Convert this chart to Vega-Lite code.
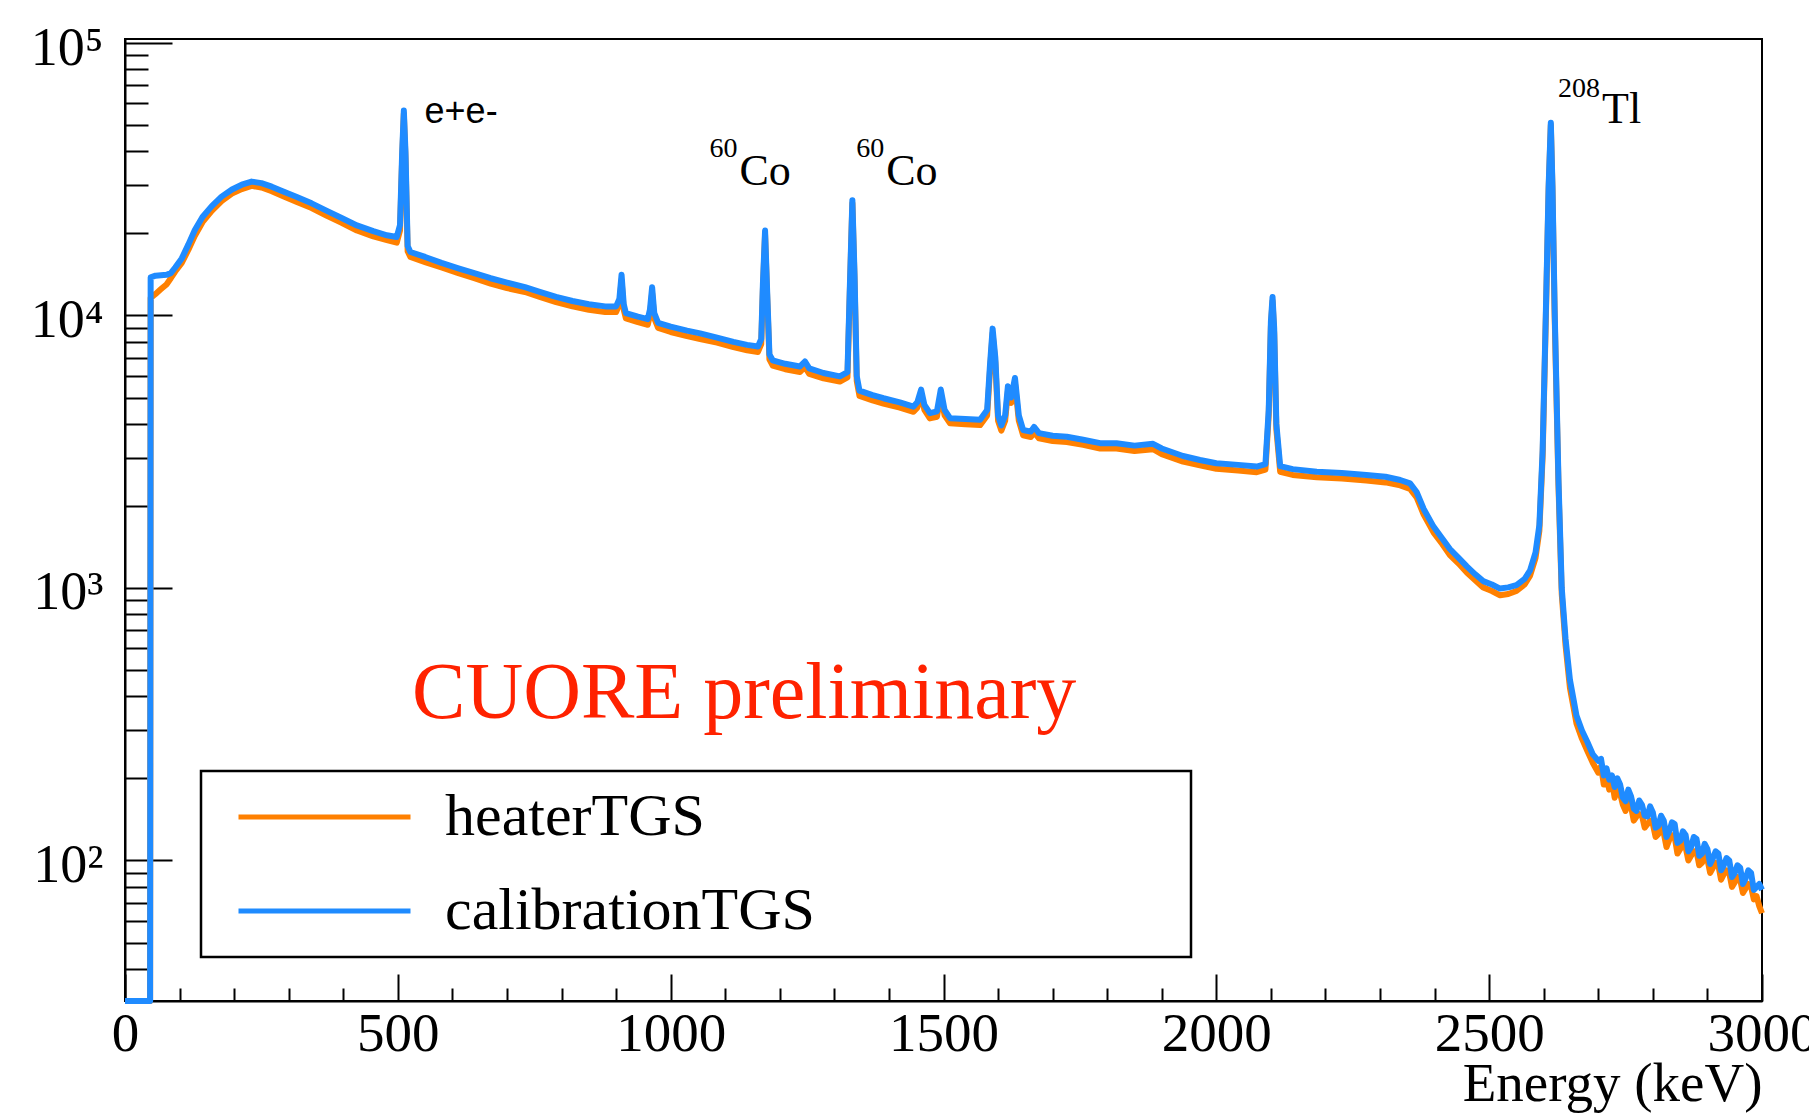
{
  "$schema": "https://vega.github.io/schema/vega-lite/v6.json",
  "width": 1637,
  "height": 962,
  "autosize": {"type": "none"},
  "padding": {"left": 125, "top": 39, "right": 47, "bottom": 116},
  "background": "white",
  "config": {
    "view": {"stroke": "black", "strokeWidth": 2},
    "legend": {"strokeColor": "black", "strokeWidth": 2.5, "fillColor": "white", "padding": 16, "labelLimit": 0}
  },
  "datasets": {
    "spectrum": [
      {"E":0,"heaterTGS":30.5,"calibrationTGS":30.5},
      {"E":46,"heaterTGS":30.5,"calibrationTGS":30.5},
      {"E":47,"heaterTGS":11600,"calibrationTGS":13800},
      {"E":56,"heaterTGS":12000,"calibrationTGS":14000},
      {"E":66,"heaterTGS":12500,"calibrationTGS":14050},
      {"E":76,"heaterTGS":13000,"calibrationTGS":14100},
      {"E":84,"heaterTGS":13700,"calibrationTGS":14300},
      {"E":92,"heaterTGS":14500,"calibrationTGS":15000},
      {"E":104,"heaterTGS":15600,"calibrationTGS":16200},
      {"E":116,"heaterTGS":17400,"calibrationTGS":18200},
      {"E":128,"heaterTGS":19600,"calibrationTGS":20600},
      {"E":142,"heaterTGS":22000,"calibrationTGS":23000},
      {"E":159,"heaterTGS":24200,"calibrationTGS":25200},
      {"E":177,"heaterTGS":26300,"calibrationTGS":27300},
      {"E":196,"heaterTGS":28000,"calibrationTGS":29000},
      {"E":214,"heaterTGS":29100,"calibrationTGS":30200},
      {"E":232,"heaterTGS":29900,"calibrationTGS":31000},
      {"E":250,"heaterTGS":29500,"calibrationTGS":30600},
      {"E":269,"heaterTGS":28600,"calibrationTGS":29700},
      {"E":290,"heaterTGS":27400,"calibrationTGS":28500},
      {"E":315,"heaterTGS":26100,"calibrationTGS":27200},
      {"E":342,"heaterTGS":24800,"calibrationTGS":25800},
      {"E":370,"heaterTGS":23200,"calibrationTGS":24200},
      {"E":397,"heaterTGS":21900,"calibrationTGS":22800},
      {"E":425,"heaterTGS":20500,"calibrationTGS":21400},
      {"E":455,"heaterTGS":19500,"calibrationTGS":20400},
      {"E":480,"heaterTGS":18900,"calibrationTGS":19700},
      {"E":498,"heaterTGS":18500,"calibrationTGS":19400},
      {"E":504,"heaterTGS":20500,"calibrationTGS":21500},
      {"E":508,"heaterTGS":38000,"calibrationTGS":40000},
      {"E":511,"heaterTGS":55000,"calibrationTGS":56500},
      {"E":514,"heaterTGS":38000,"calibrationTGS":40000},
      {"E":518,"heaterTGS":17200,"calibrationTGS":18000},
      {"E":523,"heaterTGS":16400,"calibrationTGS":17100},
      {"E":550,"heaterTGS":15700,"calibrationTGS":16400},
      {"E":580,"heaterTGS":15000,"calibrationTGS":15600},
      {"E":611,"heaterTGS":14300,"calibrationTGS":14900},
      {"E":640,"heaterTGS":13700,"calibrationTGS":14300},
      {"E":670,"heaterTGS":13100,"calibrationTGS":13700},
      {"E":700,"heaterTGS":12600,"calibrationTGS":13200},
      {"E":733,"heaterTGS":12200,"calibrationTGS":12700},
      {"E":760,"heaterTGS":11700,"calibrationTGS":12200},
      {"E":790,"heaterTGS":11200,"calibrationTGS":11700},
      {"E":820,"heaterTGS":10800,"calibrationTGS":11300},
      {"E":850,"heaterTGS":10500,"calibrationTGS":11000},
      {"E":880,"heaterTGS":10300,"calibrationTGS":10800},
      {"E":900,"heaterTGS":10300,"calibrationTGS":10800},
      {"E":906,"heaterTGS":11000,"calibrationTGS":11500},
      {"E":910,"heaterTGS":13500,"calibrationTGS":14100},
      {"E":914,"heaterTGS":10500,"calibrationTGS":11000},
      {"E":918,"heaterTGS":9750,"calibrationTGS":10200},
      {"E":940,"heaterTGS":9450,"calibrationTGS":9900},
      {"E":958,"heaterTGS":9250,"calibrationTGS":9700},
      {"E":962,"heaterTGS":10000,"calibrationTGS":10500},
      {"E":966,"heaterTGS":12100,"calibrationTGS":12700},
      {"E":970,"heaterTGS":9750,"calibrationTGS":10200},
      {"E":977,"heaterTGS":9000,"calibrationTGS":9400},
      {"E":1000,"heaterTGS":8700,"calibrationTGS":9100},
      {"E":1030,"heaterTGS":8400,"calibrationTGS":8800},
      {"E":1054,"heaterTGS":8200,"calibrationTGS":8600},
      {"E":1085,"heaterTGS":7950,"calibrationTGS":8300},
      {"E":1115,"heaterTGS":7650,"calibrationTGS":8000},
      {"E":1140,"heaterTGS":7450,"calibrationTGS":7800},
      {"E":1160,"heaterTGS":7350,"calibrationTGS":7700},
      {"E":1166,"heaterTGS":7850,"calibrationTGS":8200},
      {"E":1169,"heaterTGS":12400,"calibrationTGS":13000},
      {"E":1173,"heaterTGS":19800,"calibrationTGS":20500},
      {"E":1177,"heaterTGS":11500,"calibrationTGS":12000},
      {"E":1181,"heaterTGS":6900,"calibrationTGS":7200},
      {"E":1187,"heaterTGS":6550,"calibrationTGS":6850},
      {"E":1210,"heaterTGS":6350,"calibrationTGS":6650},
      {"E":1237,"heaterTGS":6200,"calibrationTGS":6500},
      {"E":1246,"heaterTGS":6480,"calibrationTGS":6780},
      {"E":1254,"heaterTGS":6100,"calibrationTGS":6400},
      {"E":1280,"heaterTGS":5880,"calibrationTGS":6150},
      {"E":1310,"heaterTGS":5720,"calibrationTGS":5980},
      {"E":1324,"heaterTGS":5930,"calibrationTGS":6200},
      {"E":1328,"heaterTGS":11500,"calibrationTGS":12000},
      {"E":1333,"heaterTGS":25800,"calibrationTGS":26500},
      {"E":1337,"heaterTGS":13400,"calibrationTGS":14000},
      {"E":1341,"heaterTGS":5750,"calibrationTGS":6000},
      {"E":1346,"heaterTGS":5070,"calibrationTGS":5300},
      {"E":1370,"heaterTGS":4880,"calibrationTGS":5100},
      {"E":1390,"heaterTGS":4750,"calibrationTGS":4970},
      {"E":1420,"heaterTGS":4590,"calibrationTGS":4800},
      {"E":1445,"heaterTGS":4430,"calibrationTGS":4630},
      {"E":1452,"heaterTGS":4590,"calibrationTGS":4800},
      {"E":1459,"heaterTGS":5120,"calibrationTGS":5350},
      {"E":1465,"heaterTGS":4500,"calibrationTGS":4700},
      {"E":1475,"heaterTGS":4190,"calibrationTGS":4380},
      {"E":1488,"heaterTGS":4250,"calibrationTGS":4450},
      {"E":1495,"heaterTGS":5120,"calibrationTGS":5350},
      {"E":1502,"heaterTGS":4300,"calibrationTGS":4500},
      {"E":1512,"heaterTGS":4020,"calibrationTGS":4200},
      {"E":1540,"heaterTGS":3990,"calibrationTGS":4170},
      {"E":1567,"heaterTGS":3960,"calibrationTGS":4140},
      {"E":1580,"heaterTGS":4300,"calibrationTGS":4500},
      {"E":1585,"heaterTGS":6200,"calibrationTGS":6500},
      {"E":1590,"heaterTGS":8600,"calibrationTGS":8950},
      {"E":1595,"heaterTGS":6700,"calibrationTGS":7000},
      {"E":1600,"heaterTGS":4110,"calibrationTGS":4300},
      {"E":1606,"heaterTGS":3780,"calibrationTGS":3950},
      {"E":1613,"heaterTGS":4110,"calibrationTGS":4300},
      {"E":1618,"heaterTGS":5260,"calibrationTGS":5500},
      {"E":1624,"heaterTGS":4780,"calibrationTGS":5000},
      {"E":1631,"heaterTGS":5640,"calibrationTGS":5900},
      {"E":1638,"heaterTGS":4110,"calibrationTGS":4300},
      {"E":1646,"heaterTGS":3630,"calibrationTGS":3800},
      {"E":1660,"heaterTGS":3580,"calibrationTGS":3750},
      {"E":1666,"heaterTGS":3730,"calibrationTGS":3900},
      {"E":1675,"heaterTGS":3540,"calibrationTGS":3700},
      {"E":1700,"heaterTGS":3460,"calibrationTGS":3620},
      {"E":1726,"heaterTGS":3430,"calibrationTGS":3590},
      {"E":1756,"heaterTGS":3350,"calibrationTGS":3500},
      {"E":1787,"heaterTGS":3250,"calibrationTGS":3400},
      {"E":1817,"heaterTGS":3250,"calibrationTGS":3400},
      {"E":1850,"heaterTGS":3180,"calibrationTGS":3330},
      {"E":1884,"heaterTGS":3230,"calibrationTGS":3380},
      {"E":1900,"heaterTGS":3100,"calibrationTGS":3250},
      {"E":1939,"heaterTGS":2910,"calibrationTGS":3050},
      {"E":1970,"heaterTGS":2820,"calibrationTGS":2950},
      {"E":2000,"heaterTGS":2740,"calibrationTGS":2870},
      {"E":2040,"heaterTGS":2700,"calibrationTGS":2830},
      {"E":2074,"heaterTGS":2660,"calibrationTGS":2790},
      {"E":2090,"heaterTGS":2720,"calibrationTGS":2850},
      {"E":2096,"heaterTGS":4300,"calibrationTGS":4500},
      {"E":2100,"heaterTGS":9100,"calibrationTGS":9500},
      {"E":2103,"heaterTGS":11300,"calibrationTGS":11700},
      {"E":2106,"heaterTGS":8600,"calibrationTGS":9000},
      {"E":2110,"heaterTGS":3820,"calibrationTGS":4000},
      {"E":2117,"heaterTGS":2670,"calibrationTGS":2800},
      {"E":2140,"heaterTGS":2600,"calibrationTGS":2730},
      {"E":2184,"heaterTGS":2550,"calibrationTGS":2670},
      {"E":2230,"heaterTGS":2520,"calibrationTGS":2640},
      {"E":2275,"heaterTGS":2480,"calibrationTGS":2600},
      {"E":2310,"heaterTGS":2440,"calibrationTGS":2560},
      {"E":2337,"heaterTGS":2380,"calibrationTGS":2490},
      {"E":2355,"heaterTGS":2310,"calibrationTGS":2420},
      {"E":2367,"heaterTGS":2150,"calibrationTGS":2250},
      {"E":2380,"heaterTGS":1860,"calibrationTGS":1950},
      {"E":2398,"heaterTGS":1600,"calibrationTGS":1680},
      {"E":2414,"heaterTGS":1450,"calibrationTGS":1520},
      {"E":2428,"heaterTGS":1320,"calibrationTGS":1390},
      {"E":2444,"heaterTGS":1230,"calibrationTGS":1290},
      {"E":2459,"heaterTGS":1140,"calibrationTGS":1200},
      {"E":2475,"heaterTGS":1065,"calibrationTGS":1120},
      {"E":2489,"heaterTGS":1005,"calibrationTGS":1060},
      {"E":2505,"heaterTGS":975,"calibrationTGS":1030},
      {"E":2520,"heaterTGS":940,"calibrationTGS":995},
      {"E":2535,"heaterTGS":950,"calibrationTGS":1005},
      {"E":2550,"heaterTGS":975,"calibrationTGS":1025},
      {"E":2565,"heaterTGS":1030,"calibrationTGS":1080},
      {"E":2575,"heaterTGS":1110,"calibrationTGS":1160},
      {"E":2585,"heaterTGS":1290,"calibrationTGS":1350},
      {"E":2592,"heaterTGS":1620,"calibrationTGS":1700},
      {"E":2598,"heaterTGS":3050,"calibrationTGS":3200},
      {"E":2604,"heaterTGS":10000,"calibrationTGS":10500},
      {"E":2609,"heaterTGS":29000,"calibrationTGS":30000},
      {"E":2613,"heaterTGS":50000,"calibrationTGS":51000},
      {"E":2616,"heaterTGS":29000,"calibrationTGS":30000},
      {"E":2620,"heaterTGS":10000,"calibrationTGS":10500},
      {"E":2627,"heaterTGS":2380,"calibrationTGS":2500},
      {"E":2633,"heaterTGS":950,"calibrationTGS":1000},
      {"E":2640,"heaterTGS":615,"calibrationTGS":650},
      {"E":2648,"heaterTGS":430,"calibrationTGS":460},
      {"E":2660,"heaterTGS":318,"calibrationTGS":340},
      {"E":2670,"heaterTGS":280,"calibrationTGS":300},
      {"E":2680,"heaterTGS":252,"calibrationTGS":272},
      {"E":2690,"heaterTGS":228,"calibrationTGS":245},
      {"E":2700,"heaterTGS":210,"calibrationTGS":232},
      {"E":2705,"heaterTGS":222,"calibrationTGS":236},
      {"E":2710,"heaterTGS":190,"calibrationTGS":205},
      {"E":2715,"heaterTGS":205,"calibrationTGS":218},
      {"E":2720,"heaterTGS":182,"calibrationTGS":198},
      {"E":2725,"heaterTGS":196,"calibrationTGS":205},
      {"E":2730,"heaterTGS":170,"calibrationTGS":186},
      {"E":2735,"heaterTGS":184,"calibrationTGS":200},
      {"E":2740,"heaterTGS":176,"calibrationTGS":190},
      {"E":2745,"heaterTGS":160,"calibrationTGS":170},
      {"E":2750,"heaterTGS":152,"calibrationTGS":165},
      {"E":2755,"heaterTGS":168,"calibrationTGS":182},
      {"E":2760,"heaterTGS":158,"calibrationTGS":172},
      {"E":2765,"heaterTGS":140,"calibrationTGS":155},
      {"E":2770,"heaterTGS":145,"calibrationTGS":152},
      {"E":2775,"heaterTGS":148,"calibrationTGS":166},
      {"E":2780,"heaterTGS":146,"calibrationTGS":160},
      {"E":2785,"heaterTGS":132,"calibrationTGS":146},
      {"E":2790,"heaterTGS":136,"calibrationTGS":145},
      {"E":2795,"heaterTGS":140,"calibrationTGS":158},
      {"E":2800,"heaterTGS":136,"calibrationTGS":150},
      {"E":2805,"heaterTGS":122,"calibrationTGS":132},
      {"E":2810,"heaterTGS":125,"calibrationTGS":134},
      {"E":2815,"heaterTGS":132,"calibrationTGS":146},
      {"E":2820,"heaterTGS":126,"calibrationTGS":140},
      {"E":2825,"heaterTGS":112,"calibrationTGS":122},
      {"E":2830,"heaterTGS":119,"calibrationTGS":128},
      {"E":2835,"heaterTGS":124,"calibrationTGS":138},
      {"E":2840,"heaterTGS":122,"calibrationTGS":136},
      {"E":2845,"heaterTGS":106,"calibrationTGS":116},
      {"E":2850,"heaterTGS":110,"calibrationTGS":118},
      {"E":2855,"heaterTGS":116,"calibrationTGS":128},
      {"E":2860,"heaterTGS":112,"calibrationTGS":124},
      {"E":2865,"heaterTGS":100,"calibrationTGS":108},
      {"E":2870,"heaterTGS":104,"calibrationTGS":112},
      {"E":2875,"heaterTGS":108,"calibrationTGS":122},
      {"E":2880,"heaterTGS":108,"calibrationTGS":120},
      {"E":2885,"heaterTGS":96,"calibrationTGS":104},
      {"E":2890,"heaterTGS":98,"calibrationTGS":106},
      {"E":2895,"heaterTGS":104,"calibrationTGS":115},
      {"E":2900,"heaterTGS":101,"calibrationTGS":110},
      {"E":2905,"heaterTGS":90,"calibrationTGS":97},
      {"E":2910,"heaterTGS":94,"calibrationTGS":102},
      {"E":2915,"heaterTGS":98,"calibrationTGS":108},
      {"E":2920,"heaterTGS":96,"calibrationTGS":106},
      {"E":2925,"heaterTGS":85,"calibrationTGS":92},
      {"E":2930,"heaterTGS":89,"calibrationTGS":96},
      {"E":2935,"heaterTGS":92,"calibrationTGS":102},
      {"E":2940,"heaterTGS":90,"calibrationTGS":100},
      {"E":2945,"heaterTGS":80,"calibrationTGS":87},
      {"E":2950,"heaterTGS":83,"calibrationTGS":90},
      {"E":2955,"heaterTGS":87,"calibrationTGS":96},
      {"E":2960,"heaterTGS":85,"calibrationTGS":94},
      {"E":2965,"heaterTGS":76,"calibrationTGS":82},
      {"E":2970,"heaterTGS":79,"calibrationTGS":86},
      {"E":2975,"heaterTGS":82,"calibrationTGS":92},
      {"E":2980,"heaterTGS":80,"calibrationTGS":90},
      {"E":2985,"heaterTGS":72,"calibrationTGS":78},
      {"E":2990,"heaterTGS":74,"calibrationTGS":80},
      {"E":2995,"heaterTGS":68,"calibrationTGS":82},
      {"E":3000,"heaterTGS":64,"calibrationTGS":78}
    ],
    "sansLabels": [
      {"E": 549, "counts": 50700, "t": "e+e-"}
    ],
    "mainLabels": [
      {"E": 1126, "counts": 30200, "t": "Co"},
      {"E": 1395, "counts": 30200, "t": "Co"},
      {"E": 2707, "counts": 50700, "t": "Tl"}
    ],
    "supLabels": [
      {"E": 1071, "counts": 38200, "t": "60"},
      {"E": 1340, "counts": 38200, "t": "60"},
      {"E": 2626, "counts": 63400, "t": "208"}
    ],
    "watermark": [
      {"E": 526, "counts": 333, "t": "CUORE preliminary"}
    ]
  },
  "encoding": {
    "x": {
      "field": "E", "type": "quantitative",
      "scale": {"domain": [0, 3000], "nice": false, "zero": false},
      "axis": {
        "values": [0,100,200,300,400,500,600,700,800,900,1000,1100,1200,1300,1400,1500,1600,1700,1800,1900,2000,2100,2200,2300,2400,2500,2600,2700,2800,2900,3000],
        "format": "d",
        "labelExpr": "datum.value % 500 == 0 ? datum.label : ''",
        "tickSize": {"condition": {"test": "datum.value % 500 == 0", "value": -27}, "value": -13},
        "tickColor": "black", "tickWidth": 2,
        "domainColor": "black", "domainWidth": 2,
        "grid": false,
        "labelFont": "Liberation Serif", "labelFontSize": 55, "labelColor": "black",
        "labelBaseline": "alphabetic", "labelPadding": 76,
        "labelFlush": false, "labelOverlap": false, "labelBound": false,
        "title": "Energy (keV)",
        "titleFont": "Liberation Serif", "titleFontSize": 55, "titleFontWeight": "normal", "titleColor": "black",
        "titleAlign": "right", "titleAnchor": "end", "titleBaseline": "alphabetic",
        "titleX": 1637, "titleY": 99
      }
    },
    "y": {
      "field": "counts", "type": "quantitative",
      "scale": {"type": "log", "domain": [30.5, 103440], "nice": false},
      "axis": {
        "values": [40,50,60,70,80,90,100,200,300,400,500,600,700,800,900,1000,2000,3000,4000,5000,6000,7000,8000,9000,10000,20000,30000,40000,50000,60000,70000,80000,90000,100000],
        "labelExpr": "datum.value == 100 ? '10\u00b2' : datum.value == 1000 ? '10\u00b3' : datum.value == 10000 ? '10\u2074' : datum.value == 100000 ? '10\u2075' : ''",
        "tickSize": {"condition": {"test": "indexof([100,1000,10000,100000], datum.value) >= 0", "value": -47}, "value": -23},
        "tickColor": "black", "tickWidth": 2,
        "domainColor": "black", "domainWidth": 2,
        "grid": false,
        "labelFont": "Liberation Serif", "labelFontSize": 54, "labelColor": "black",
        "labelBaseline": "middle", "labelPadding": 69, "labelOffset": 5,
        "labelFlush": false, "labelOverlap": false, "labelBound": false,
        "title": null
      }
    }
  },
  "layer": [
    {
      "data": {"name": "spectrum"},
      "transform": [{"fold": ["heaterTGS", "calibrationTGS"], "as": ["series", "counts"]}],
      "mark": {"type": "line", "strokeWidth": 6, "strokeJoin": "round"},
      "encoding": {
        "color": {
          "field": "series", "type": "nominal",
          "scale": {"domain": ["heaterTGS", "calibrationTGS"], "range": ["#ff8000", "#1f8bff"]},
          "legend": {
            "orient": "none", "legendX": 76, "legendY": 732,
            "title": null, "direction": "vertical",
            "symbolType": "stroke", "symbolSize": 29584, "symbolStrokeWidth": 5,
            "symbolOffset": 19, "clipHeight": 60, "rowPadding": 34,
            "labelFont": "Liberation Serif", "labelFontSize": 60, "labelColor": "black",
            "labelOffset": 32,
            "labelExpr": "datum.label + '\u00a0\u00a0\u00a0\u00a0\u00a0\u00a0\u00a0\u00a0\u00a0\u00a0\u00a0\u00a0\u00a0\u00a0\u00a0\u00a0\u00a0\u00a0\u00a0\u00a0\u00a0\u00a0\u00a0\u00a0\u200b'"
          }
        }
      }
    },
    {
      "data": {"name": "sansLabels"},
      "mark": {"type": "text", "font": "Liberation Sans", "fontSize": 36, "align": "left", "baseline": "alphabetic", "color": "black"},
      "encoding": {"text": {"field": "t"}}
    },
    {
      "data": {"name": "mainLabels"},
      "mark": {"type": "text", "font": "Liberation Serif", "fontSize": 44, "align": "left", "baseline": "alphabetic", "color": "black"},
      "encoding": {"text": {"field": "t"}}
    },
    {
      "data": {"name": "supLabels"},
      "mark": {"type": "text", "font": "Liberation Serif", "fontSize": 28, "align": "left", "baseline": "alphabetic", "color": "black"},
      "encoding": {"text": {"field": "t"}}
    },
    {
      "data": {"name": "watermark"},
      "mark": {"type": "text", "font": "Liberation Serif", "fontSize": 80, "align": "left", "baseline": "alphabetic", "color": "#ff2200"},
      "encoding": {"text": {"field": "t"}}
    }
  ]
}
